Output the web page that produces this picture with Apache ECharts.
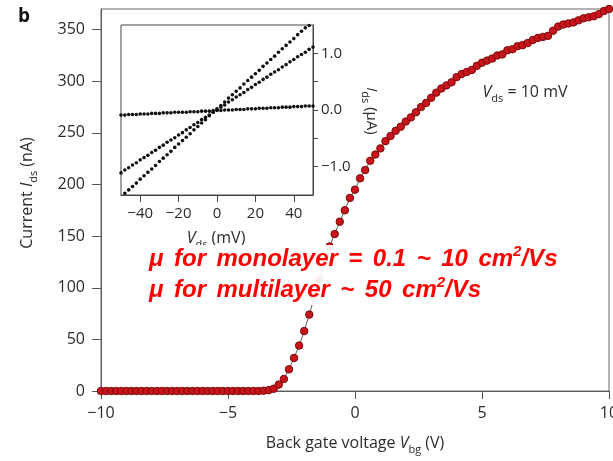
<!DOCTYPE html>
<html><head><meta charset="utf-8">
<script src="https://cdn.jsdelivr.net/npm/echarts@6/dist/echarts.min.js"></script>
<style>html,body{margin:0;padding:0;background:#fff}#c{width:613px;height:461px}</style>
</head><body><div id="c"></div>
<script>
// Main transfer curve: back gate voltage (V) vs current (nA)
var gateV = [-10,-9.8,-9.6,-9.4,-9.2,-9,-8.8,-8.6,-8.4,-8.2,-8,-7.8,-7.6,-7.4,-7.2,-7,-6.8,-6.6,-6.4,-6.2,-6,-5.8,-5.6,-5.4,-5.2,-5,-4.8,-4.6,-4.4,-4.2,-4,-3.8,-3.6,-3.4,-3.2,-3,-2.8,-2.6,-2.4,-2.2,-2,-1.8,-1.6,-1.4,-1.2,-1,-0.8,-0.6,-0.4,-0.2,0,0.2,0.4,0.6,0.8,1,1.2,1.4,1.6,1.8,2,2.2,2.4,2.6,2.8,3,3.2,3.4,3.6,3.8,4,4.2,4.4,4.6,4.8,5,5.2,5.4,5.6,5.8,6,6.2,6.4,6.6,6.8,7,7.2,7.4,7.6,7.8,8,8.2,8.4,8.6,8.8,9,9.2,9.4,9.6,9.8,10];
var currentNA = [0,0,0,0,0,0,0,0,0,0,0,0,0,0,0,0,0,0,0,0,0,0,0,0,0,0,0,0,0,0,0,0,
  0.3,0.8,2.2,6.2,11.6,21,32,44,58,74,91,108,124,140,152,164,175,187,195,206,214,223,229,235,242,247,252,256,261,265,270,275,279,284,289,293,296,299,304,307,309,311,315,318,320,322,325,326,330,331,334,335,337,340,342,343,344,349,353,355,356,357,359,361,362,363,365,368,370];
var mainXTicks = [-10,-5,0,5,10];
var mainYTicks = [0,50,100,150,200,250,300,350];

// Inset: Vds (mV) vs Ids (uA) for three gate voltages
var insetVds = [-50,-48,-46,-44,-42,-40,-38,-36,-34,-32,-30,-28,-26,-24,-22,-20,-18,-16,-14,-12,-10,-8,-6,-4,-2,0,2,4,6,8,10,12,14,16,18,20,22,24,26,28,30,32,34,36,38,40,42,44,46,48,50];
var idsFlat = [-0.09,-0.09,-0.08,-0.08,-0.08,-0.07,-0.07,-0.07,-0.06,-0.06,-0.06,-0.05,-0.05,-0.05,-0.04,-0.04,-0.04,-0.04,-0.03,-0.03,-0.03,-0.02,-0.02,-0.02,-0.01,-0.01,-0.01,0.00,0.00,0.00,0.01,0.01,0.01,0.02,0.02,0.02,0.03,0.03,0.03,0.04,0.04,0.04,0.05,0.05,0.05,0.06,0.06,0.06,0.07,0.07,0.07];
var idsMid = [-1.11,-1.06,-1.02,-0.97,-0.93,-0.88,-0.84,-0.80,-0.75,-0.71,-0.66,-0.62,-0.57,-0.53,-0.49,-0.44,-0.40,-0.35,-0.31,-0.26,-0.22,-0.17,-0.13,-0.09,-0.04,0.00,0.05,0.09,0.14,0.18,0.23,0.27,0.31,0.36,0.40,0.45,0.49,0.54,0.58,0.63,0.67,0.71,0.76,0.80,0.85,0.89,0.94,0.98,1.02,1.07,1.11];
var idsSteep = [null,-1.47,-1.41,-1.35,-1.29,-1.22,-1.16,-1.10,-1.04,-0.98,-0.91,-0.85,-0.79,-0.73,-0.66,-0.60,-0.54,-0.48,-0.42,-0.35,-0.29,-0.23,-0.17,-0.10,-0.04,0.02,0.08,0.14,0.21,0.27,0.33,0.39,0.46,0.52,0.58,0.64,0.70,0.77,0.83,0.89,0.95,1.02,1.08,1.14,1.20,1.26,1.33,1.39,1.45,1.49,null];
var insetXTicks = [-40,-20,0,20,40];

function zip(xs, ys){ var o=[]; for(var i=0;i<xs.length;i++){ if(ys[i]!==null) o.push([xs[i],ys[i]]); } return o; }
function redLine(s){ return '{a|' + s.split(' ').join('}{w| }{a|') + '}{p|2}{a|/Vs}'; }

var FONT = 'Open Sans';
var TXT = '#2b2b2b';
var AX = '#555';

var chart = echarts.init(document.getElementById('c'), null, {renderer:'canvas'});
var insetSeries = function(ys){
  return {type:'line', xAxisIndex:1, yAxisIndex:1, data:zip(insetVds, ys), showSymbol:true, symbol:'circle', symbolSize:3.6,
    lineStyle:{width:0, opacity:0}, itemStyle:{color:'#111'}, clip:true, z:12, silent:true, animation:false};
};
var subRich = function(fs, lh){ return {
  i:{fontStyle:'italic', fontSize:fs, fontFamily:FONT, lineHeight:lh},
  s:{fontSize:Math.round(fs*0.7), fontFamily:FONT, verticalAlign:'bottom', lineHeight:lh}}; };
var redRich = {
  a:{font:'italic bold 24px Liberation Sans', fill:'#ff0000', lineHeight:30},
  w:{font:'italic bold 24px Liberation Sans', width:10.5, lineHeight:30},
  p:{font:'italic bold 15px Liberation Sans', fill:'#ff0000', verticalAlign:'top', lineHeight:30}};

var option = {
  animation:false,
  grid:[
    {left:101, right:4, top:9, bottom:70, show:true, borderColor:'#666', borderWidth:1, backgroundColor:'transparent', outerBoundsMode:'none', containLabel:false, z:1},
    {left:121, top:25, width:192, height:170, show:true, borderColor:'#444', borderWidth:1, backgroundColor:'#fff', outerBoundsMode:'none', containLabel:false, z:10}
  ],
  xAxis:[
    {type:'value', gridIndex:0, min:-10, max:10, interval:5,
      axisLine:{show:true, onZero:false, lineStyle:{color:AX}},
      axisTick:{show:true, inside:false, length:8, lineStyle:{color:AX}},
      axisLabel:{fontSize:16, fontFamily:FONT, color:TXT, margin:14, formatter:function(v){return v<0?'\u2212'+Math.abs(v):String(v);}},
      splitLine:{show:false}},
    {type:'value', gridIndex:1, min:-50, max:50,
      axisLine:{show:true, onZero:false, lineStyle:{color:'#444'}},
      axisTick:{show:true, inside:false, length:7, customValues:insetXTicks, lineStyle:{color:'#444'}},
      axisLabel:{fontSize:15, fontFamily:FONT, color:TXT, margin:11, customValues:insetXTicks, formatter:function(v){return v<0?'\u2212'+Math.abs(v):String(v);}},
      splitLine:{show:false}, z:11}
  ],
  yAxis:[
    {type:'value', gridIndex:0, min:0, max:370,
      axisLine:{show:true, onZero:false, lineStyle:{color:AX}},
      axisTick:{show:true, inside:false, length:9, customValues:mainYTicks, lineStyle:{color:AX}},
      axisLabel:{fontSize:16, fontFamily:FONT, color:TXT, margin:16, customValues:mainYTicks},
      splitLine:{show:false}},
    {type:'value', gridIndex:1, position:'right', min:-1.5, max:1.5, interval:0.5,
      axisLine:{show:true, onZero:false, lineStyle:{color:'#444'}},
      axisTick:{show:true, inside:false, length:5, lineStyle:{color:'#444'}},
      axisLabel:{fontSize:15, fontFamily:FONT, color:TXT, margin:8, showMinLabel:false, showMaxLabel:false,
        formatter:function(v){ if(Math.abs(v-Math.round(v))>1e-6) return ''; return v<0?'\u2212'+Math.abs(v).toFixed(1):v.toFixed(1);} },
      splitLine:{show:false}, z:11}
  ],
  series:[
    {type:'line', xAxisIndex:0, yAxisIndex:0, data:zip(gateV, currentNA), symbol:'circle', symbolSize:7.5, showSymbol:true,
      lineStyle:{color:'#333', width:0.8}, itemStyle:{color:'#c8141a', borderColor:'#7a0b0b', borderWidth:1}, clip:false, z:3, animation:false},
    insetSeries(idsFlat), insetSeries(idsMid), insetSeries(idsSteep)
  ],
  graphic:[
    {type:'text', left:18, top:7, z:50, style:{text:'b', font:'bold 19px '+FONT, fill:'#111'}},
    {type:'text', x:27, y:193, rotation:Math.PI/2, z:50, style:{text:'Current {i|I}{s|ds} (nA)', font:'16px '+FONT, fill:TXT, align:'center', verticalAlign:'middle', rich:subRich(16,24)}},
    {type:'text', x:355, y:443, z:50, style:{text:'Back gate voltage {i|V}{s|bg} (V)', font:'16px '+FONT, fill:TXT, align:'center', verticalAlign:'middle', rich:subRich(16,24)}},
    {type:'text', x:216, y:238, z:50, style:{text:'{i|V}{s|ds} (mV)', font:'16px '+FONT, fill:TXT, align:'center', verticalAlign:'middle', rich:subRich(16,24)}},
    {type:'text', x:371, y:111, rotation:-Math.PI/2, z:50, style:{text:'{i|I}{s|ds} (\u03bcA)', font:'15px '+FONT, fill:TXT, align:'center', verticalAlign:'middle', rich:subRich(15,22)}},
    {type:'text', x:525, y:92, z:50, style:{text:'{i|V}{s|ds} = 10 mV', font:'16px '+FONT, fill:TXT, align:'center', verticalAlign:'middle', rich:subRich(16,24)}},
    {type:'rect', shape:{x:143, y:245, width:437, height:60}, z:60, style:{fill:'rgba(255,255,255,0.93)'}},
    {type:'text', x:149, y:259, z:61, style:{text:redLine('\u03bc for monolayer = 0.1 ~ 10 cm'), align:'left', verticalAlign:'middle', rich:redRich}},
    {type:'text', x:149, y:290, z:61, style:{text:redLine('\u03bc for multilayer ~ 50 cm'), align:'left', verticalAlign:'middle', rich:redRich}}
  ]
};
chart.setOption(option);
</script></body></html>
